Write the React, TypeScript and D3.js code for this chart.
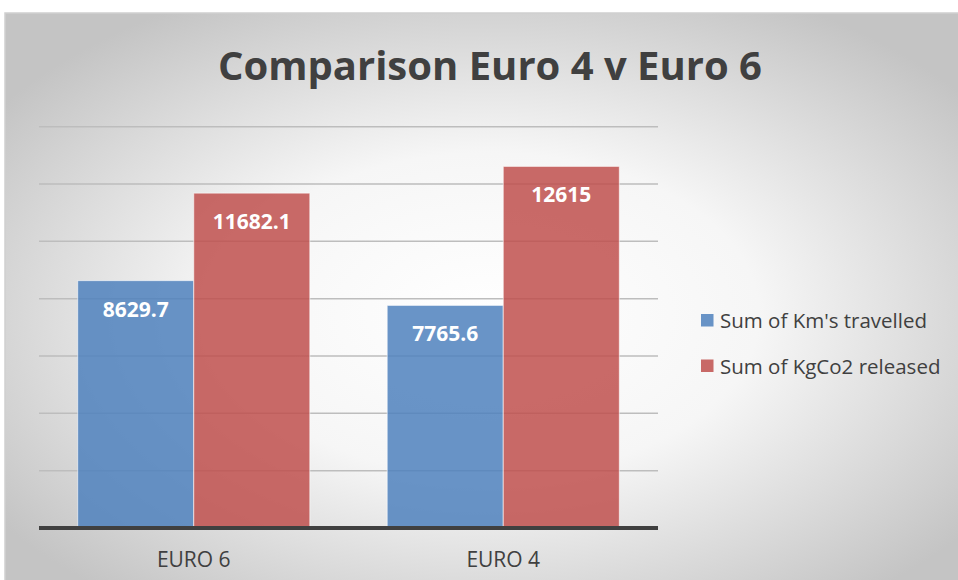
import React from "react";
import * as d3 from "d3";

const categories = ["EURO 6", "EURO 4"];
const seriesNames = ["Sum of Km's travelled", "Sum of KgCo2 released"];
const kmTravelled = [8629.7, 7765.6];
const kgCo2Released = [11682.1, 12615];
const yTicks = [0, 2000, 4000, 6000, 8000, 10000, 12000, 14000];
const colors = ["#4F81BD", "#C0504D"];

const W = 958;
const H = 580;
const FONT = "'Open Sans', 'Liberation Sans', sans-serif";

export default function App() {
  const x0 = d3.scaleBand<string>().domain(categories).range([39, 658]).paddingInner(0.25).paddingOuter(0.125);
  const x1 = d3.scaleBand<string>().domain(seriesNames).range([0, x0.bandwidth()]).padding(0);
  const y = d3.scaleLinear().domain([0, 14000]).range([528, 126.7]);
  const series = [kmTravelled, kgCo2Released];

  return (
    <svg width={W} height={H} style={{ position: "absolute", left: 0, top: 0 }} xmlns="http://www.w3.org/2000/svg">
      <defs>
        <radialGradient id="bg" cx="50%" cy="52%" r="62%">
          <stop offset="0%" stopColor="#ffffff" />
          <stop offset="45%" stopColor="#f6f6f6" />
          <stop offset="100%" stopColor="#c4c4c4" />
        </radialGradient>
      </defs>
      <rect x={0} y={0} width={W} height={H} fill="#ffffff" />
      <rect x={5} y={13} width={W + 10} height={H} fill="url(#bg)" stroke="#cfcfcf" strokeWidth={1.5} />
      <text x={490} y={80} textAnchor="middle" fontFamily={FONT} fontWeight="bold" fontSize={40} fill="#404040">
        Comparison Euro 4 v Euro 6
      </text>
      {yTicks.slice(1).map((t) => (
        <line key={t} x1={39} x2={658} y1={y(t)} y2={y(t)} stroke="#bdbdbd" strokeWidth={1.5} />
      ))}
      {categories.map((c, i) => (
        <g key={c} transform={`translate(${x0(c)},0)`}>
          {series.map((s, j) => {
            const bx = x1(seriesNames[j])!;
            const bw = x1.bandwidth();
            return (
              <g key={j}>
                <rect x={bx} y={y(s[i])} width={bw} height={y(0) - y(s[i])} fill={colors[j]} fillOpacity={0.85} stroke="#ffffff" strokeOpacity={0.6} strokeWidth={1} />
                <text x={bx + bw / 2} y={y(s[i]) + 36} textAnchor="middle" fontFamily={FONT} fontWeight="bold" fontSize={21} fill="#ffffff">
                  {String(s[i])}
                </text>
              </g>
            );
          })}
        </g>
      ))}
      <line x1={39} x2={658} y1={y(0)} y2={y(0)} stroke="#404040" strokeWidth={4} />
      {categories.map((c) => (
        <text key={c} x={x0(c)! + x0.bandwidth() / 2} y={567} textAnchor="middle" fontFamily={FONT} fontSize={21} fill="#404040">
          {c}
        </text>
      ))}
      {seriesNames.map((n, j) => (
        <g key={n} transform={`translate(701,${314 + j * 45.5})`}>
          <rect x={0} y={0} width={12.5} height={12.5} fill={colors[j]} fillOpacity={0.85} />
          <text x={19} y={14} fontFamily={FONT} fontSize={20.5} fill="#404040">
            {n}
          </text>
        </g>
      ))}
    </svg>
  );
}
